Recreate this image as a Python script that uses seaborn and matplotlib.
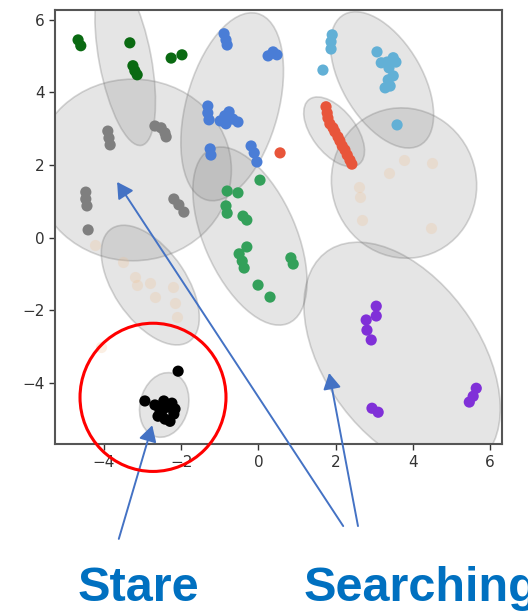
import numpy as np
import pandas as pd
import matplotlib
matplotlib.use("Agg")
import matplotlib.pyplot as plt
import seaborn as sns
from matplotlib.patches import Ellipse

# ---------------- data ----------------
darkgreen_x = [-4.67, -4.60, -3.33, -3.25, -3.20, -3.14, -2.26, -1.98]
darkgreen_y = [5.44, 5.28, 5.36, 4.73, 4.59, 4.48, 4.94, 5.03]

gray_x = [-3.90, -3.87, -3.84, -2.68, -2.52, -2.42, -2.39, -4.47, -4.47, -4.44, -4.41, -2.19, -2.06, -1.93]
gray_y = [2.93, 2.74, 2.55, 3.07, 3.02, 2.88, 2.77, 1.25, 1.06, 0.87, 0.21, 1.06, 0.90, 0.70]

blue_x = [-0.89, -0.84, -0.81, 0.25, 0.38, 0.48, -1.31, -1.31, -1.28, -0.99, -0.87, -0.76,
          -0.66, -0.53, -0.84, -1.25, -1.23, -0.19, -0.11, -0.04]
blue_y = [5.61, 5.44, 5.30, 5.00, 5.11, 5.03, 3.62, 3.43, 3.24, 3.21, 3.35, 3.46,
          3.26, 3.18, 3.13, 2.44, 2.27, 2.52, 2.33, 2.08]

green_x = [0.04, -0.81, -0.53, -0.84, -0.81, -0.40, -0.30, -0.30, -0.50, -0.42, -0.37, 0.84, 0.90, -0.01, 0.30]
green_y = [1.58, 1.28, 1.23, 0.87, 0.67, 0.59, 0.48, -0.26, -0.45, -0.65, -0.84, -0.56, -0.73, -1.31, -1.64]

lightblue_x = [1.91, 1.88, 1.88, 1.67, 3.07, 3.18, 3.33, 3.49, 3.56, 3.38, 3.36, 3.49, 3.28, 3.41, 3.59]
lightblue_y = [5.58, 5.39, 5.19, 4.61, 5.11, 4.81, 4.83, 4.95, 4.83, 4.67, 4.34, 4.45, 4.12, 4.17, 3.10]

red_x = [1.75, 1.78, 1.80, 1.85, 1.93, 1.98, 2.06, 2.11, 2.17, 2.24, 2.30, 2.37, 2.42, 0.56]
red_y = [3.60, 3.43, 3.29, 3.13, 3.02, 2.91, 2.77, 2.66, 2.52, 2.41, 2.27, 2.13, 2.02, 2.33]

purple_x = [3.05, 3.05, 2.79, 2.81, 2.92, 2.94, 3.10, 5.64, 5.56, 5.46]
purple_y = [-1.89, -2.16, -2.27, -2.55, -2.82, -4.70, -4.81, -4.15, -4.37, -4.53]

black_x = [-2.08, -2.94, -2.68, -2.55, -2.45, -2.34, -2.24, -2.16, -2.60, -2.42, -2.29, -2.19, -2.50]
black_y = [-3.68, -4.50, -4.61, -4.75, -4.50, -4.67, -4.56, -4.72, -4.92, -5.00, -5.06, -4.86, -4.78]

peach_x = [2.61, 2.68, 3.38, 3.77, 4.50, 4.47, 2.63,
           -4.23, -3.51, -3.20, -3.14, -2.81, -2.68, -2.21, -2.16, -2.11, -4.08]
peach_y = [1.39, 0.48, 1.78, 2.13, 2.05, 0.26, 1.12,
           -0.21, -0.67, -1.09, -1.31, -1.25, -1.64, -1.36, -1.80, -2.19, -3.02]

cluster_names = ["darkgreen", "gray", "blue", "green", "lightblue", "red", "purple", "black"]
cluster_colors = ["#0a6a12", "#7f7f7f", "#4a7dd6", "#33a05a", "#62b0d6", "#e8553a", "#8030d8", "#000000"]
peach_color = "#f0c090"

# ellipses: centre, width, height, angle (deg)
ell_x = [-3.45, -3.25, -0.68, -0.22, 3.20, 1.96, 3.77, -2.80, 3.72, -2.44]
ell_y = [4.90, 1.86, 3.60, 0.04, 4.34, 2.91, 1.50, -1.31, -3.29, -4.61]
ell_w = [1.35, 5.10, 5.30, 5.20, 4.10, 2.20, 3.75, 3.70, 7.00, 1.80]
ell_h = [4.80, 5.00, 2.40, 2.40, 2.10, 1.15, 4.15, 1.90, 4.10, 1.25]
ell_a = [10, 0, 76, -68, -62, -55, 10, -58, -58, 78]

xticks = [-4, -2, 0, 2, 4, 6]
yticks = [-4, -2, 0, 2, 4, 6]

# annotation targets (data coords)
stare_target = (-2.75, -5.17)
search_targets = [(-3.66, 1.53), (1.83, -3.73)]
highlight_center = (-2.73, -4.40)

# ---------------- build frame ----------------
xs = [darkgreen_x, gray_x, blue_x, green_x, lightblue_x, red_x, purple_x, black_x]
ys = [darkgreen_y, gray_y, blue_y, green_y, lightblue_y, red_y, purple_y, black_y]
rows = []
for name, xx, yy in zip(cluster_names, xs, ys):
    for a, b in zip(xx, yy):
        rows.append((a, b, name))
df = pd.DataFrame(rows, columns=["x", "y", "cluster"])
df_peach = pd.DataFrame({"x": peach_x, "y": peach_y})

sns.set_theme(style="ticks")
plt.rcParams["font.family"] = ["DejaVu Sans"]

fig = plt.figure(figsize=(5.28, 6.11), dpi=100)
ax = fig.add_axes([0.104, 0.273, 0.847, 0.711])

for cx, cy, w, h, a in zip(ell_x, ell_y, ell_w, ell_h, ell_a):
    e = Ellipse((cx, cy), w, h, angle=a, facecolor=(0.5, 0.5, 0.5, 0.2),
                edgecolor=(0.45, 0.45, 0.45, 0.3), lw=1.2, zorder=1)
    ax.add_patch(e)

sns.scatterplot(data=df_peach, x="x", y="y", color=peach_color, alpha=0.25,
                s=65, linewidth=0, ax=ax, zorder=2)
sns.scatterplot(data=df, x="x", y="y", hue="cluster", hue_order=cluster_names,
                palette=dict(zip(cluster_names, cluster_colors)), s=65, linewidth=0,
                legend=False, ax=ax, zorder=3)

ax.set_xlim(-5.27, 6.31)
ax.set_ylim(-5.69, 6.27)
ax.set_xticks(xticks)
ax.set_yticks(yticks)
ax.set_xlabel("")
ax.set_ylabel("")
ax.tick_params(labelsize=11, colors="#333333", length=4, width=1)
for sp in ax.spines.values():
    sp.set_color("#555555")
    sp.set_linewidth(1.5)

# red highlight circle
circ = Ellipse(highlight_center, 3.78, 4.08, facecolor="none", edgecolor="#ff0000",
               lw=2.2, clip_on=False, zorder=5)
ax.add_patch(circ)

arrow_kw = dict(arrowstyle="-|>,head_length=0.8,head_width=0.45", color="#4472C4",
                lw=1.4, shrinkA=0, shrinkB=0)
ax.annotate("", xy=stare_target, xycoords="data", xytext=(0.225, 0.118),
            textcoords="figure fraction", arrowprops=arrow_kw, annotation_clip=False)
ax.annotate("", xy=search_targets[0], xycoords="data", xytext=(0.650, 0.139),
            textcoords="figure fraction", arrowprops=arrow_kw, annotation_clip=False)
ax.annotate("", xy=search_targets[1], xycoords="data", xytext=(0.678, 0.139),
            textcoords="figure fraction", arrowprops=arrow_kw, annotation_clip=False)

label_font = ["Liberation Sans", "DejaVu Sans"]
fig.text(0.146, 0.016, "Stare", color="#0070C0", fontsize=35, fontweight="bold",
         family=label_font, ha="left", va="baseline")
fig.text(0.574, 0.016, "Searching", color="#0070C0", fontsize=35, fontweight="bold",
         family=label_font, ha="left", va="baseline")

fig.savefig("out.png", dpi=100)
